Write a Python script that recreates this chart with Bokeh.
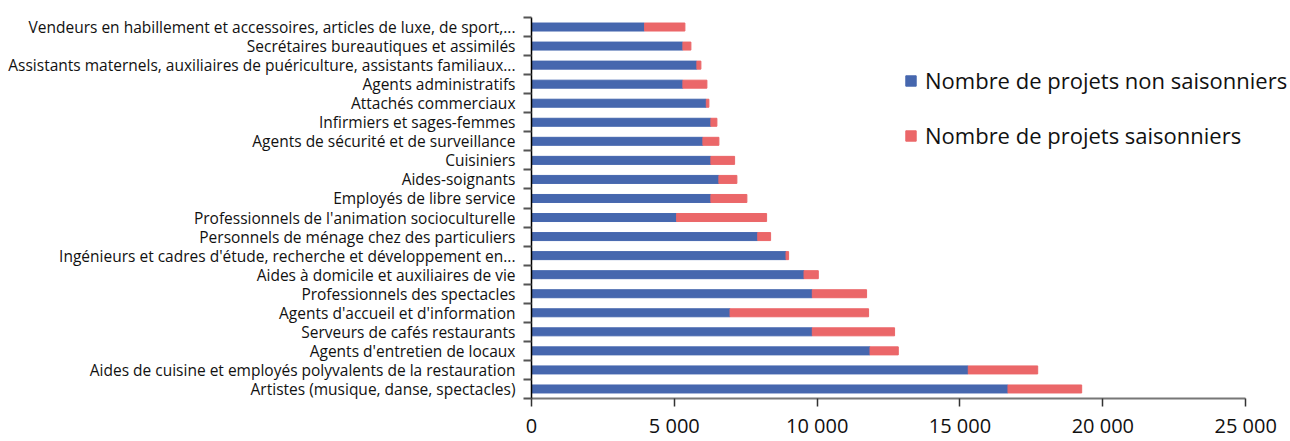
from bokeh.plotting import figure
from bokeh.models import FixedTicker, Legend, LegendItem, ColumnDataSource, Range1d
from bokeh.embed import file_html
from bokeh.resources import INLINE

# Data (top to bottom as shown)
categories = [
    "Vendeurs en habillement et accessoires, articles de luxe, de sport,...",
    "Secrétaires bureautiques et assimilés",
    "Assistants maternels, auxiliaires de puériculture, assistants familiaux...",
    "Agents administratifs",
    "Attachés commerciaux",
    "Infirmiers et sages-femmes",
    "Agents de sécurité et de surveillance",
    "Cuisiniers",
    "Aides-soignants",
    "Employés de libre service",
    "Professionnels de l'animation socioculturelle",
    "Personnels de ménage chez des particuliers",
    "Ingénieurs et cadres d'étude, recherche et développement en...",
    "Aides à domicile et auxiliaires de vie",
    "Professionnels des spectacles",
    "Agents d'accueil et d'information",
    "Serveurs de cafés restaurants",
    "Agents d'entretien de locaux",
    "Aides de cuisine et employés polyvalents de la restauration",
    "Artistes (musique, danse, spectacles)",
]
non_saisonniers = [3960, 5300, 5790, 5300, 6120, 6280, 6000, 6280, 6560, 6280,
                   5080, 7920, 8910, 9540, 9830, 6950, 9830, 11850, 15290, 16680]
saisonniers = [1410, 280, 140, 840, 90, 210, 560, 830, 630, 1260,
               3150, 450, 90, 500, 1900, 4850, 2880, 990, 2430, 2580]
x_ticks = [0, 5000, 10000, 15000, 20000, 25000]
x_tick_labels = ["0", "5 000", "10 000", "15 000", "20 000", "25 000"]

n = len(categories)
ypos = [n - 1 - i for i in range(n)]
src = ColumnDataSource(dict(y=ypos, ns=non_saisonniers,
                            tot=[a + b for a, b in zip(non_saisonniers, saisonniers)]))

BLUE = "#4667ae"
RED = "#eb6769"
FONT = "Open Sans"

p = figure(width=1288, height=441, output_backend="svg", toolbar_location=None,
           x_range=Range1d(0, 26500), y_range=Range1d(-0.5, n - 0.5),
           min_border_left=531, min_border_right=0, min_border_top=17, min_border_bottom=41)
p.outline_line_color = None
p.xgrid.visible = False
p.ygrid.visible = False

r1 = p.hbar(y="y", left=0, right="ns", height=0.42, color=BLUE, source=src)
r2 = p.hbar(y="y", left="ns", right="tot", height=0.42, color=RED, source=src)

# y axis
p.yaxis.ticker = FixedTicker(ticks=ypos, minor_ticks=[i - 0.5 for i in range(n + 1)])
p.yaxis.major_label_overrides = {ypos[i]: categories[i] for i in range(n)}
p.yaxis.major_tick_out = 0
p.yaxis.major_tick_in = 0
p.yaxis.minor_tick_out = 8
p.yaxis.minor_tick_in = 0
p.yaxis.minor_tick_line_color = "#555555"
p.yaxis.minor_tick_line_width = 2
p.yaxis.axis_line_color = "black"
p.yaxis.axis_line_width = 1.5
p.yaxis.major_label_standoff = 8
p.yaxis.major_label_text_font = FONT
p.yaxis.major_label_text_font_size = "15.5px"
p.yaxis.major_label_text_color = "#111111"

# x axis
p.xaxis.ticker = FixedTicker(ticks=x_ticks, minor_ticks=[])
p.xaxis.bounds = (0, 25000)
p.xaxis.major_label_overrides = {t: l for t, l in zip(x_ticks, x_tick_labels)}
p.xaxis.major_tick_out = 8
p.xaxis.major_tick_in = 0
p.xaxis.major_tick_line_color = "#333333"
p.xaxis.major_tick_line_width = 1.5
p.xaxis.axis_line_color = "#777777"
p.xaxis.axis_line_width = 2
p.xaxis.major_label_standoff = 5
p.xaxis.major_label_text_font = FONT
p.xaxis.major_label_text_font_size = "20px"
p.xaxis.major_label_text_color = "#111111"

legend = Legend(items=[LegendItem(label="Nombre de projets non saisonniers", renderers=[r1]),
                       LegendItem(label="Nombre de projets saisonniers", renderers=[r2])],
                location=(373, 248), orientation="vertical",
                glyph_width=13, glyph_height=13, label_height=28, spacing=25,
                padding=0, margin=0, label_standoff=8,
                label_text_font=FONT, label_text_font_size="22px",
                label_text_color="#111111",
                border_line_color=None, background_fill_alpha=0)
p.add_layout(legend, "center")

open("out.html", "w").write(file_html(p, INLINE))
